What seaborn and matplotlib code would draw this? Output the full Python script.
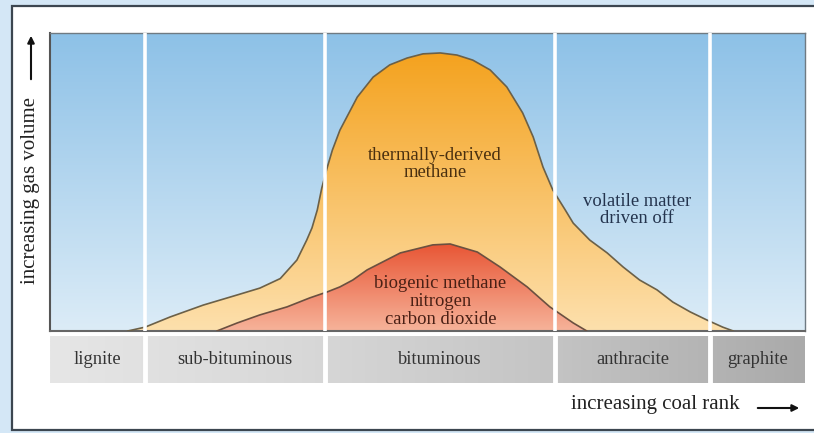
import numpy as np
import pandas as pd
import seaborn as sns
import matplotlib.pyplot as plt
from matplotlib.patches import Polygon, Rectangle
from matplotlib.colors import LinearSegmentedColormap

# coal rank (0-100) vs relative gas volume (0-100)
thermal_rank = [10.3, 12.6, 15.9, 20.3, 24.8, 27.8, 30.5, 32.7, 34.0, 34.7, 35.4, 36.0,
                36.7, 37.4, 38.4, 40.7, 42.8, 45.0, 47.3, 49.4, 51.7, 53.9, 56.0, 58.3,
                60.5, 62.6, 64.0, 65.3, 66.6, 68.2, 69.3, 71.5, 73.8, 75.9, 78.1, 80.4,
                82.5, 84.8, 87.0, 89.1, 90.5]
thermal_gas = [0, 1.3, 4.7, 8.7, 12.1, 14.4, 17.6, 23.8, 30.5, 34.6, 40.6, 48.0,
               54.7, 60.7, 67.4, 78.5, 85.2, 89.3, 91.6, 93.0, 93.3, 92.6, 90.9, 87.6,
               81.9, 73.2, 65.1, 55.0, 47.3, 40.8, 36.2, 30.5, 26.2, 21.5, 17.1, 13.8,
               9.7, 6.4, 3.7, 1.3, 0]

biogenic_rank = [22.1, 24.8, 27.8, 31.4, 34.4, 36.7, 38.4, 40.1, 42.0, 46.4, 50.7, 53.0,
                 56.6, 59.6, 63.2, 66.2, 69.3, 71.1]
biogenic_gas = [0, 2.7, 5.4, 8.1, 11.1, 13.1, 14.8, 17.1, 20.5, 26.2, 28.9, 29.2,
                26.5, 21.5, 14.8, 8.1, 2.7, 0]

ranks = ["lignite", "sub-bituminous", "bituminous", "anthracite", "graphite"]
rank_edges = [0, 12.6, 36.4, 66.9, 87.4, 100]

sns.set_style("white")
plt.rcParams['font.family'] = ['Liberation Serif', 'DejaVu Serif']

W, H = 814, 433
fig = plt.figure(figsize=(W / 100, H / 100), dpi=100)
fig.patch.set_facecolor("#d4e7f6")

# background axes: white panel with dark frame (screenshot border) + axis captions
bg = fig.add_axes([0, 0, 1, 1], zorder=-5)
bg.set_xlim(0, W)
bg.set_ylim(H, 0)
bg.axis("off")
bg.add_patch(Rectangle((12, 6), W, 424, facecolor="white", edgecolor="#3c4650", lw=1.6))
bg.annotate("", xy=(31, 33), xytext=(31, 82),
            arrowprops=dict(arrowstyle="-|>", color="#111", lw=1.5, mutation_scale=10))
bg.annotate("", xy=(802, 408), xytext=(755, 408),
            arrowprops=dict(arrowstyle="-|>", color="#111", lw=1.5, mutation_scale=10))
bg.text(31, 190, "increasing gas volume", rotation=90, ha="center", va="center",
        fontsize=15, color="#222")
bg.text(655, 405, "increasing coal rank", ha="center", va="center",
        fontsize=15, color="#222")

ax = fig.add_axes([50 / W, (H - 331) / H, 755 / W, 298 / H])
band = fig.add_axes([50 / W, (H - 383) / H, 755 / W, 47 / H])


def vgrad(a, x0, x1, y0, y1, c_bot, c_top, zorder, clip=None):
    cmap = LinearSegmentedColormap.from_list("g", [c_bot, c_top])
    g = np.linspace(0, 1, 256).reshape(-1, 1)
    im = a.imshow(g, cmap=cmap, aspect="auto", origin="lower",
                  extent=[x0, x1, y0, y1], zorder=zorder, interpolation="bilinear")
    if clip is not None:
        im.set_clip_path(clip)
    return im


# sky background
vgrad(ax, 0, 100, 0, 100, "#dcecf7", "#8dc1e7", 0)


def curve_fill(xs, ys, c_bot, c_top, z):
    verts = np.column_stack([xs, ys])
    poly = Polygon(verts, closed=True, facecolor="none", edgecolor="none")
    ax.add_patch(poly)
    vgrad(ax, min(xs), max(xs), 0, max(ys), c_bot, c_top, z, clip=poly)


curve_fill(thermal_rank, thermal_gas, "#fde0ad", "#f4a21e", 1)
curve_fill(biogenic_rank, biogenic_gas, "#f6b39a", "#e85534", 2)

df_t = pd.DataFrame({"rank": thermal_rank, "gas": thermal_gas})
df_b = pd.DataFrame({"rank": biogenic_rank, "gas": biogenic_gas})
sns.lineplot(data=df_t, x="rank", y="gas", sort=False, ax=ax, color="#6b6048", lw=1.2, zorder=3)
sns.lineplot(data=df_b, x="rank", y="gas", sort=False, ax=ax, color="#6b5040", lw=1.2, zorder=3)

for e in rank_edges[1:-1]:
    ax.axvline(e, color="white", lw=2.6, zorder=4)

ax.set_xlim(0, 100)
ax.set_ylim(0, 100)
ax.set_xticks([])
ax.set_yticks([])
ax.set_xlabel("")
ax.set_ylabel("")
for s in ax.spines.values():
    s.set_color("#6f7a82")
    s.set_linewidth(1.0)
ax.spines["left"].set_color("#555")
ax.spines["bottom"].set_color("#666")
ax.spines["left"].set_linewidth(1.5)
ax.spines["bottom"].set_linewidth(1.5)

ax.text(51.0, 56.0, "thermally-derived\nmethane", ha="center", va="center",
        fontsize=13.4, color="#4a3010", linespacing=1.05, zorder=5)
ax.text(77.7, 40.6, "volatile matter\ndriven off", ha="center", va="center",
        fontsize=13.4, color="#24344e", linespacing=1.05, zorder=5)
ax.text(51.7, 9.9, "biogenic methane\nnitrogen\ncarbon dioxide", ha="center", va="center",
        fontsize=13.4, color="#4a2015", linespacing=1.05, zorder=5)

# coal rank band
g = np.linspace(0, 1, 256).reshape(1, -1)
cmap_b = LinearSegmentedColormap.from_list("b", ["#e6e6e6", "#d8d8d8", "#c4c4c4", "#aaaaaa"])
band.imshow(g, cmap=cmap_b, aspect="auto", extent=[0, 100, 0, 1], zorder=0)
for e in rank_edges[1:-1]:
    band.axvline(e, color="white", lw=3.5, zorder=1)
for i, name in enumerate(ranks):
    band.text((rank_edges[i] + rank_edges[i + 1]) / 2, 0.5, name, ha="center", va="center",
              fontsize=13.3, color="#333333", zorder=2)
band.set_xlim(0, 100)
band.set_ylim(0, 1)
band.axis("off")

fig.savefig("out.png", dpi=100)
